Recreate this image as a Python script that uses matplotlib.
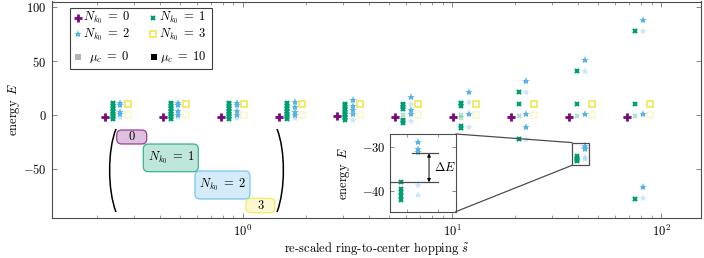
import matplotlib
matplotlib.use('Agg')
import matplotlib.pyplot as plt
from matplotlib import transforms
from matplotlib.patches import Rectangle, FancyBboxPatch, PathPatch, ConnectionPatch
from matplotlib.path import Path
from matplotlib.ticker import LogLocator, NullFormatter, FixedLocator
from matplotlib.colors import to_rgba

plt.rcParams['font.family'] = 'cmr10'
plt.rcParams['mathtext.fontset'] = 'cm'
plt.rcParams['axes.formatter.use_mathtext'] = True
plt.rcParams['axes.unicode_minus'] = True

# ---------------- data ----------------
s_tilde = [0.248, 0.470, 0.891, 1.69, 3.20, 6.06, 11.5, 21.7, 41.2, 78.0]

E_N0_mu0 = [[-1.5], [-1.5], [-1.5], [-1.5], [-1.0], [-1.5], [-1.5], [-1.5], [-1.5], [-1.5]]
E_N0_mu10 = [[-1.5], [-1.5], [-1.5], [-1.5], [-1.0], [-1.5], [-1.5], [-1.5], [-1.5], [-1.5]]

E_N1_mu0 = [[-3, -1, 1], [-3, -1, 1], [-3, -1, 1], [-3, -1, 1], [-3, -1, 1],
            [-6, 0, 6], [-11.5, -2.5, 0, 11.5], [-21.7, -1, 21.7], [-41, -1, 41], [-77.7, -1, 77.7]]
E_N1_mu10 = [[-3.5, -2, -0.5, 1, 2.5, 4, 5.5, 7, 8.5, 10, 11.5],
             [-3.5, -2, -0.5, 1, 2.5, 4, 5.5, 7, 8.5, 10, 11.5],
             [-3.5, -2, -0.5, 1, 2.5, 4, 5.5, 7, 8.5, 10, 11.5],
             [-3.5, -2, -0.5, 1, 2.5, 4, 5.5, 7, 8.5, 10, 11],
             [-4.5, -3, -1.5, 0, 1.5, 3, 4.5, 6, 7.5, 9, 10.5],
             [-7, -5.5, -4.5, 6, 7.5, 9, 10.5],
             [-11.5, -10.5, 8.5, 10, 11.5],
             [-21.7, 10, 21.7],
             [-42.2, -41.3, -40.4, -39.6, -38.1, 10, 41.3],
             [-77.7, 10, 77.7]]

E_N2_mu0 = [[-1.5], [-2], [-2.5], [-2.5], [-4.5], [-5.5, 10.5], [-11, 11.8],
            [-21.7, 21.7], [-41, -38.7, 41.3], [-77, 77.7]]
E_N2_mu10 = [[1, 3, 9.5, 11], [0.5, 3.5, 9, 11.5], [0.5, 4, 9, 11.5], [0.5, 3, 7.5, 12.5],
             [1.5, 5, 8.5, 14.5], [1.5, 4.5, 17], [0.6, 21.7], [-11, 1, 32],
             [-31.2, -30.6, -29.0, 0.6, 51.3], [-67, 0.6, 88]]

E_N3_mu0 = [[0]] * 10
E_N3_mu10 = [[10]] * 10

inset_group = 8

# ---------------- style ----------------
c_purple = '#7a0a7e'
c_green = '#009E73'
c_blue = '#56B4E9'
c_yellow = '#F0E442'
light_alpha = 0.3
FS = 9

W, H, DPI = 704, 258, 100
fig = plt.figure(figsize=(W / DPI, H / DPI), dpi=DPI)
pix = transforms.Affine2D().scale(1 / W, -1 / H).translate(0, 1) + fig.transFigure

def pbox(x0, y0, x1, y1):
    return [x0 / W, 1 - y1 / H, (x1 - x0) / W, (y1 - y0) / H]

ax = fig.add_axes(pbox(52, 1.5, 701, 218))
ax.set_xscale('log')
ax.set_xlim(0.122, 155)
ax.set_ylim(-95.5, 105.5)


def flat(E_lists):
    xs = [s for s, Es in zip(s_tilde, E_lists) for _ in Es]
    ys = [e for Es in E_lists for e in Es]
    return xs, ys

styles = {
    'N0': dict(marker='+', ms=5.5, mew=2.0, color=c_purple),
    'N1': dict(marker='x', ms=3.4, mew=1.5, color=c_green),
    'N2': dict(marker='*', ms=6.0, mew=0, color=c_blue),
    'N3': dict(marker='s', ms=4.0, mew=1.1, color=c_yellow, mfc='none', mec=c_yellow),
}
series = [
    ('N0', E_N0_mu0, E_N0_mu10),
    ('N1', E_N1_mu0, E_N1_mu10),
    ('N2', E_N2_mu0, E_N2_mu10),
    ('N3', E_N3_mu0, E_N3_mu10),
]
offsets_main = {'N0': -11.5, 'N1': -3.6, 'N2': 4.0, 'N3': 11.2}
offsets_inset = {'N0': -30, 'N1': -8.6, 'N2': 8.7, 'N3': 30}


def draw(a, offsets):
    for key, e0, e10 in series:
        st = dict(styles[key])
        tr = a.transData + transforms.ScaledTranslation(offsets[key] / DPI, 0, fig.dpi_scale_trans)
        x, y = flat(e0)
        a.plot(x, y, ls='none', alpha=light_alpha, transform=tr, zorder=3, **st)
        x, y = flat(e10)
        a.plot(x, y, ls='none', transform=tr, zorder=4, **st)

draw(ax, offsets_main)

spine_c = '0.3'
for sp in ax.spines.values():
    sp.set_color(spine_c)
    sp.set_linewidth(0.8)
ax.tick_params(which='both', direction='in', top=True, right=True, color='0.45',
               labelsize=FS, pad=4)
ax.tick_params(which='major', length=3.5, width=0.6)
ax.tick_params(which='minor', length=2.2, width=0.5)
ax.set_yticks([-50, 0, 50, 100])
ax.xaxis.set_major_locator(LogLocator(base=10, numticks=10))
ax.xaxis.set_minor_locator(LogLocator(base=10, subs=range(2, 10), numticks=20))
ax.xaxis.set_minor_formatter(NullFormatter())
ax.set_xlabel(r're-scaled ring-to-center hopping $\tilde{s}$', fontsize=FS)
ax.set_ylabel(r'energy $\,E$', fontsize=FS)
ax.yaxis.set_label_coords(-0.046, 0.5)
ax.xaxis.set_label_coords(0.5, -0.1)

# ---------------- legend (manual) ----------------
fig.add_artist(Rectangle((70, 7.5), 142, 61, transform=pix, fc='white', ec='0.25', lw=0.8, zorder=10))
leg_items = [
    ('N0', 78, 17.7, r'$N_{k_0}\;=\;0$', 83),
    ('N1', 153, 17.7, r'$N_{k_0}\;=\;1$', 159),
    ('N2', 78, 34.3, r'$N_{k_0}\;=\;2$', 83),
    ('N3', 153, 34.3, r'$N_{k_0}\;=\;3$', 159),
]
for key, mx, my, lab, tx in leg_items:
    st = dict(styles[key])
    fig.add_artist(plt.Line2D([mx], [my], transform=pix, zorder=11, **st))
    fig.text(tx / W, 1 - my / H, lab, fontsize=FS, va='center', ha='left', zorder=11)
for col, mx, tx, lab in [('0.7', 78, 89, r'$\mu_c\;=\;0$'), ('black', 154, 160, r'$\mu_c\;=\;10$')]:
    fig.add_artist(plt.Line2D([mx], [57.3], transform=pix, marker='s', ms=4.2, mew=0,
                              color=col, zorder=11))
    fig.text(tx / W, 1 - 57.3 / H, lab, fontsize=FS, va='center', ha='left', zorder=11)

# ---------------- block matrix sketch ----------------
boxes = [
    (116.7, 130, 146.7, 144, c_purple, '0'),
    (143.3, 144, 198.3, 171.7, c_green, r'$N_{k_0}\;=\;1$'),
    (195, 171, 250, 199, c_blue, r'$N_{k_0}\;=\;2$'),
    (246, 198.3, 275, 212.7, c_yellow, '3'),
]
for x0, y0, x1, y1, c, lab in boxes:
    p = FancyBboxPatch((x0, y0), x1 - x0, y1 - y0, boxstyle='round,pad=0,rounding_size=5',
                       transform=pix, fc=to_rgba(c, 0.25), ec=to_rgba(c, 0.75), lw=0.9)
    fig.add_artist(p)
    fig.text((x0 + x1) / 2 / W, 1 - (y0 + y1) / 2 / H, lab, fontsize=FS, ha='center', va='center')

lp = Path([(116, 129), (107.5, 150), (107.5, 190), (116, 212)],
          [Path.MOVETO, Path.CURVE4, Path.CURVE4, Path.CURVE4])
rp = Path([(277, 129), (285.5, 150), (285.5, 190), (277, 212)],
          [Path.MOVETO, Path.CURVE4, Path.CURVE4, Path.CURVE4])
for pth in (lp, rp):
    fig.add_artist(PathPatch(pth, transform=pix, fc='none', ec='black', lw=1.1))

# ---------------- inset ----------------
s9 = s_tilde[inset_group]
axin = fig.add_axes(pbox(390, 134, 455.7, 211.7))
axin.set_xscale('log')
axin.set_xlim(s9 * 0.96, s9 * 1.10)
axin.set_ylim(-44.8, -27.1)
draw(axin, offsets_inset)
for sp in axin.spines.values():
    sp.set_color(spine_c)
    sp.set_linewidth(0.8)
axin.tick_params(which='both', direction='in', top=True, right=True, color='0.45',
                 labelsize=FS, pad=3)
axin.tick_params(which='major', length=3, width=0.6)
axin.tick_params(which='minor', length=2.2, width=0.5)
axin.set_yticks([-40, -30])
axin.xaxis.set_major_locator(FixedLocator([]))
axin.xaxis.set_minor_locator(FixedLocator([s9 * 0.995, s9 * 1.06]))
axin.xaxis.set_minor_formatter(NullFormatter())
axin.set_ylabel(r'energy $\,E$', fontsize=FS)
axin.yaxis.set_label_coords(-0.58, 0.5)

E_up = min(e for e in E_N2_mu10[inset_group] if e < 0) - 0.3
E_lo = max(e for e in E_N1_mu10[inset_group] if e < 0)
bt = transforms.blended_transform_factory(axin.transAxes, axin.transData)
axin.plot([0.33, 0.735], [E_up, E_up], color='0.3', lw=0.9, transform=bt, zorder=5)
axin.plot([0.0, 0.735], [E_lo, E_lo], color='0.3', lw=0.9, transform=bt, zorder=5)
axin.annotate('', xy=(0.594, E_up), xytext=(0.594, E_lo), xycoords=bt, textcoords=bt,
              arrowprops=dict(arrowstyle='<|-|>', color='black', lw=0.7,
                              mutation_scale=5, shrinkA=0, shrinkB=0))
axin.text(0.84, (E_up + E_lo) / 2, r'$\Delta E$', transform=bt, fontsize=FS,
          ha='center', va='center')

# zoom rectangle + connectors
rx0, rx1 = s9 / 1.10, s9 * 1.09
ry0, ry1 = -46.6, -25.5
ax.add_patch(Rectangle((rx0, ry0), rx1 - rx0, ry1 - ry0, fc='none', ec='0.3', lw=0.9, zorder=6))
for (xa, ya), (xb, yb) in [((rx0, ry1), (1, 1)), ((rx0, ry0), (1, 0))]:
    cp = ConnectionPatch(xyA=(xa, ya), coordsA=ax.transData, xyB=(xb, yb), coordsB=axin.transAxes,
                         color='0.3', lw=0.9)
    fig.add_artist(cp)

fig.savefig('out.png', dpi=DPI)
